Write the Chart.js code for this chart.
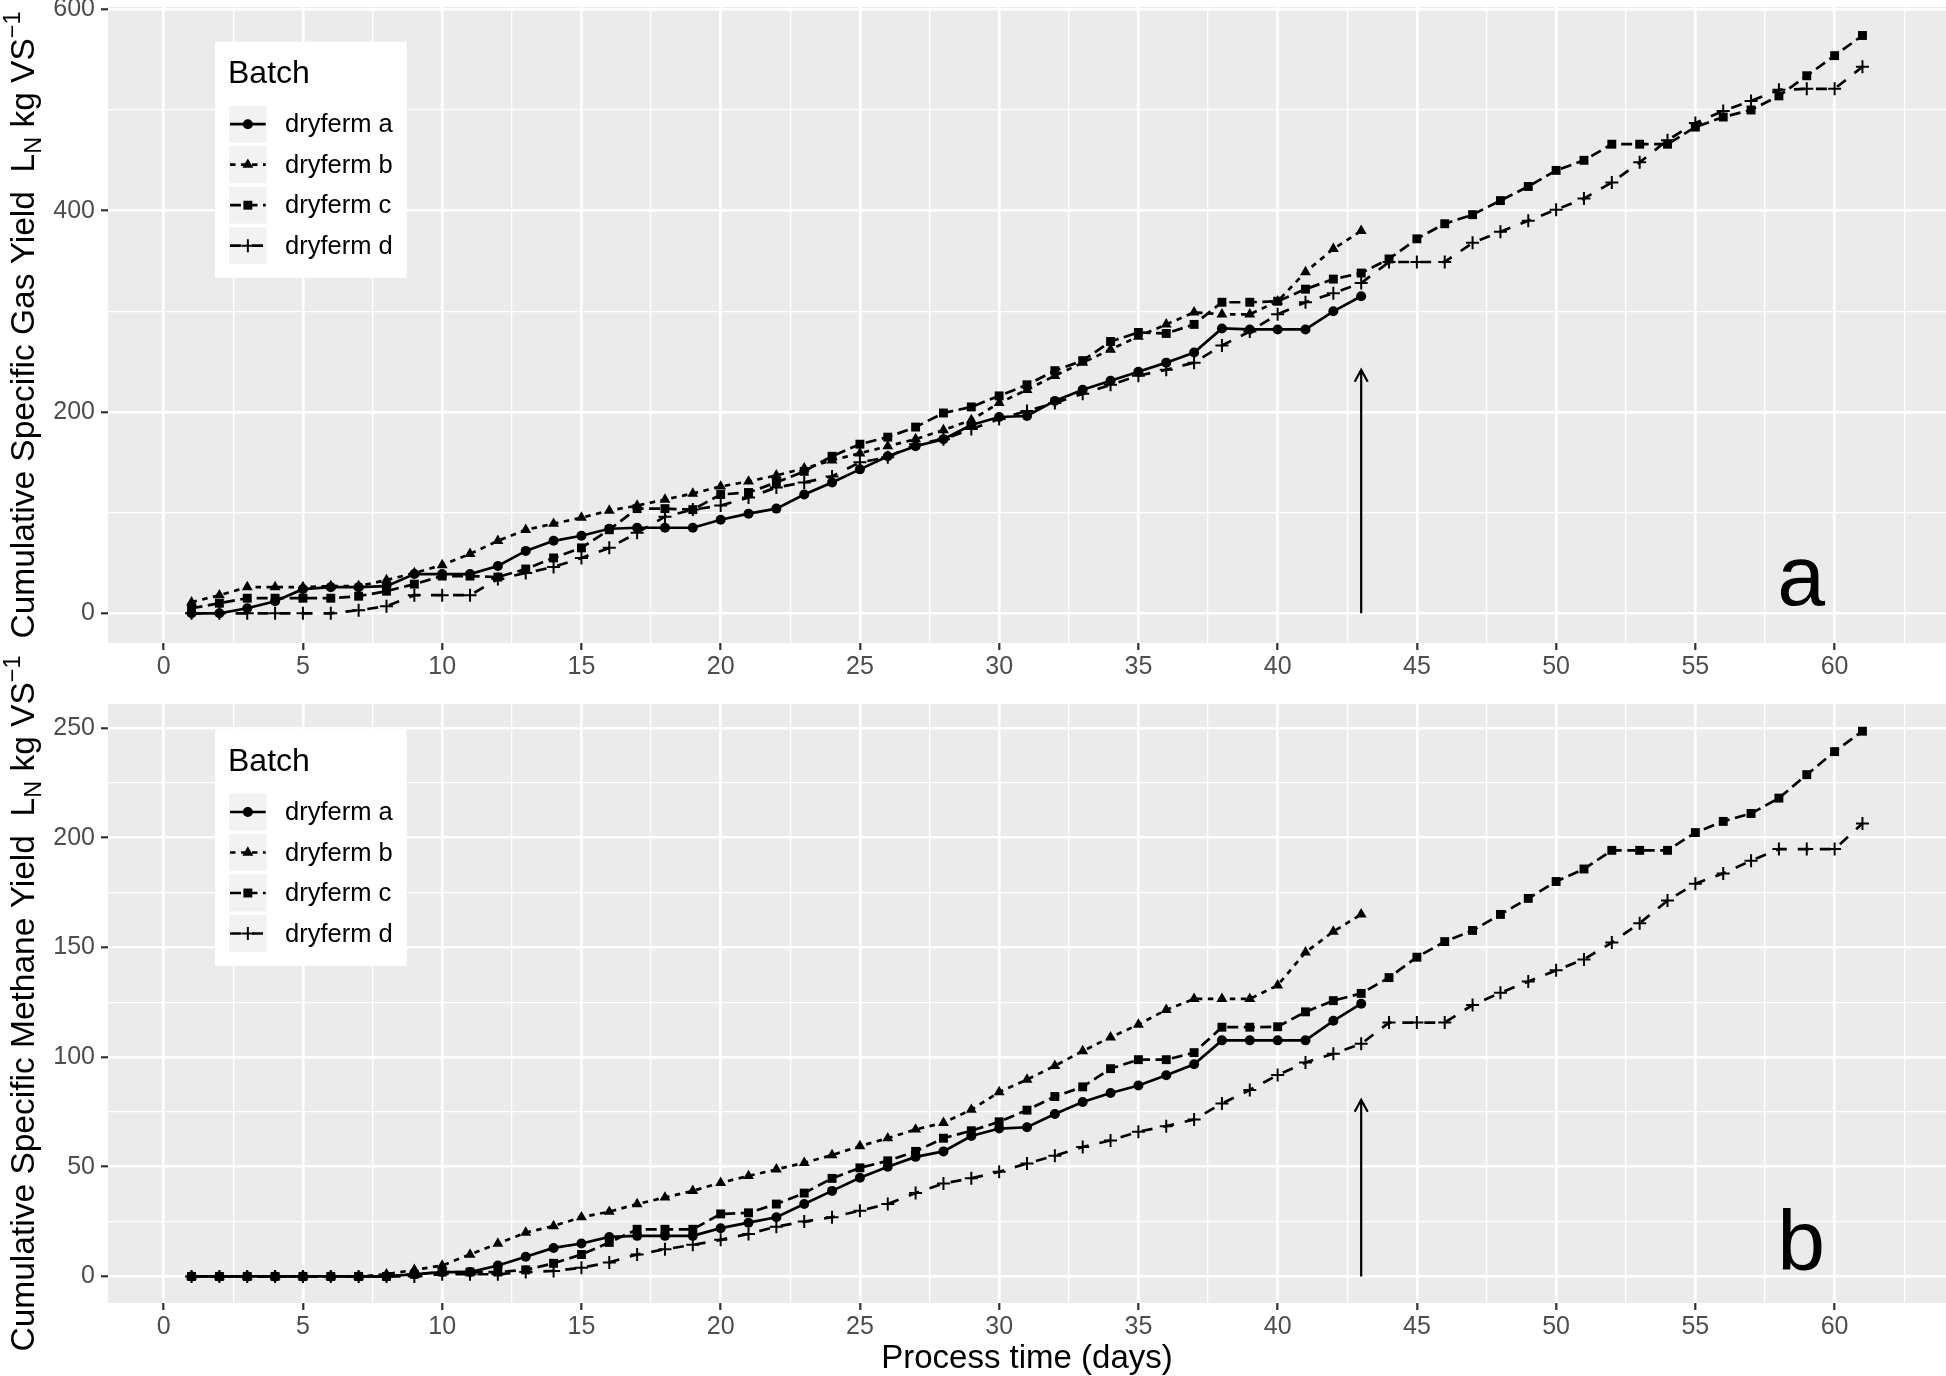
<!DOCTYPE html>
<html>
<head>
<meta charset="utf-8">
<script src="https://cdn.jsdelivr.net/npm/chart.js@4.4.1/dist/chart.umd.min.js"></script>
<style>
html,body{margin:0;padding:0;background:#ffffff;}
#wrap{position:relative;width:1946px;height:1376px;overflow:hidden;background:#ffffff;}
canvas{position:absolute;left:0;}
</style>
</head>
<body>
<div id="wrap">
<canvas id="gas" width="1946" height="690" style="top:0px"></canvas>
<canvas id="methane" width="1946" height="726" style="top:650px"></canvas>
</div>
<script>
// ---------------- DATA ----------------
const days = [1,2,3,4,5,6,7,8,9,10,11,12,13,14,15,16,17,18,19,20,21,22,23,24,25,26,27,28,29,30,31,32,33,34,35,36,37,38,39,40,41,42,43,44,45,46,47,48,49,50,51,52,53,54,55,56,57,58,59,60,61];
const seriesNames = ['dryferm a','dryferm b','dryferm c','dryferm d'];

// Cumulative specific gas yield (panel a)
const gasA = [0,0,5,12,24,26,26,27,39,39,39,47,62,72,77,84,85,85,85,93,99,104,118,130,143,156,166,173,187,195,196,211,222,231,240,249,259,283,282,282,282,300,315];
const gasB = [11,18,26,26,26,27,27,33,40,48,59,72,83,89,95,102,107,113,119,126,131,137,144,152,159,166,173,182,192,209,222,236,249,262,275,287,299,297,297,310,339,362,380];
const gasC = [5,10,15,15,15,15,17,22,29,37,37,36,44,55,65,83,104,104,103,118,120,130,141,156,168,175,185,199,205,216,227,241,251,270,279,278,287,309,309,310,322,332,338,352,372,387,396,410,424,440,450,466,466,466,483,493,500,514,534,554,574];
const gasD = [0,0,0,0,0,0,3,7,18,18,18,34,40,46,55,65,80,96,103,107,115,125,130,136,150,155,168,173,183,193,201,209,218,227,236,242,249,266,280,297,309,318,328,349,349,349,368,379,390,401,412,428,448,470,487,499,509,520,521,521,543];

// Cumulative specific methane yield (panel b)
const ch4A = [0,0,0,0,0,0,0,0,1,2,2,5,9,13,15,18,18.5,18.5,18.5,22,24.5,27,33,39,45,50,54.5,57,64,67.4,68,74,79.5,83.6,87,91.7,96.7,107.6,107.6,107.6,107.6,116.5,124.3];
const ch4B = [0,0,0,0,0,0,0,1,3,5,10,15,20,23,27,29.5,33,36,39,42.7,45.8,48.8,51.8,55.3,59.4,63,67,70,76,84,89.7,96,102.7,109,114.8,121.5,126.5,126.5,126.5,132.7,147.7,157.2,165];
const ch4C = [0,0,0,0,0,0,0,0,1,2,2,2,3,6,10,15.5,21.5,21.5,21.5,28.5,29,33,38,44.7,49.5,52.7,57,63,66.4,70.5,75.8,82,86.4,94.7,98.8,98.8,102,113.6,113.6,113.8,120.6,125.7,129,136.2,145.5,152.6,157.7,165,172.3,180,185.7,194.2,194.2,194.2,202.3,207.4,211,218,228.7,239.2,248.5];
const ch4D = [0,0,0,0,0,0,0,0,0,1,1,1,2,2.5,4,6.4,10,12.4,14.4,16.7,19.4,22.7,25,27,30,33,38,42.4,44.7,47.7,51.5,55,59,62,66,68.5,71.5,78.8,85,91.8,97.5,101.5,106,115.7,115.7,115.7,123.7,129.3,134.4,139.5,144.5,152.2,161,171.3,179,183.7,189.5,194.8,194.8,194.8,206.4];

// Axes ticks
const xMajorTicks = [0,5,10,15,20,25,30,35,40,45,50,55,60];
const xMinorTicks = [2.5,7.5,12.5,17.5,22.5,27.5,32.5,37.5,42.5,47.5,52.5,57.5,62.5];
const gasYMajorTicks = [0,200,400,600];
const gasYMinorTicks = [100,300,500];
const ch4YMajorTicks = [0,50,100,150,200,250];
const ch4YMinorTicks = [25,75,125,175,225];

// Annotations
const arrowDay = 43;
const gasArrowTop = 242;
const ch4ArrowTop = 80.5;
const panelLetters = ['a','b'];
const letterDay = 58.8;
const gasLetterY = 8;
const ch4LetterY = 3;

// ---------------- STYLE ----------------
const FONT = "'Liberation Sans', Arial, Helvetica, sans-serif";
const seriesStyles = [
  {dash: [], point: 'circle', r: 5, pbw: 0},
  {dash: [5.5, 5.5], point: 'triangle', r: 6.3, pbw: 0},
  {dash: [11, 5.5], point: 'rect', r: 6.3, pbw: 0},
  {dash: [11, 11], point: 'cross', r: 6.5, pbw: 2}
];

function toPoints(vals) { return vals.map((v, i) => ({x: days[i], y: v})); }

function drawMarker(ctx, st, x, y) {
  ctx.save();
  ctx.setLineDash([]);
  ctx.fillStyle = '#000';
  ctx.strokeStyle = '#000';
  const r = st.r;
  ctx.beginPath();
  if (st.point === 'circle') {
    ctx.arc(x, y, r, 0, Math.PI * 2); ctx.fill();
  } else if (st.point === 'triangle') {
    for (let k = 0; k < 3; k++) {
      const a = k * 2 * Math.PI / 3;
      const px = x + Math.sin(a) * r, py = y - Math.cos(a) * r;
      if (k === 0) ctx.moveTo(px, py); else ctx.lineTo(px, py);
    }
    ctx.closePath(); ctx.fill();
  } else if (st.point === 'rect') {
    const s = r * Math.SQRT1_2;
    ctx.rect(x - s, y - s, 2 * s, 2 * s); ctx.fill();
  } else {
    ctx.lineWidth = st.pbw;
    ctx.moveTo(x, y - r); ctx.lineTo(x, y + r);
    ctx.moveTo(x - r, y); ctx.lineTo(x + r, y);
    ctx.stroke();
  }
  ctx.restore();
}

const panelBg = {
  id: 'panelBg',
  beforeDraw(chart) {
    const {ctx, chartArea: a} = chart;
    ctx.save();
    ctx.fillStyle = '#EBEBEB';
    ctx.fillRect(a.left, a.top, a.right - a.left, a.bottom - a.top);
    ctx.restore();
  }
};

const decorations = {
  id: 'decorations',
  afterDatasetsDraw(chart, args, o) {
    const ctx = chart.ctx;
    const xs = chart.scales.x, ys = chart.scales.y;
    const ax = xs.getPixelForValue(arrowDay);
    const y0 = ys.getPixelForValue(0);
    const y1 = ys.getPixelForValue(o.arrowTop);
    ctx.save();
    ctx.strokeStyle = '#000';
    ctx.lineWidth = 2.2;
    ctx.setLineDash([]);
    ctx.beginPath();
    ctx.moveTo(ax, y0); ctx.lineTo(ax, y1);
    ctx.moveTo(ax - 6.5, y1 + 12); ctx.lineTo(ax, y1); ctx.lineTo(ax + 6.5, y1 + 12);
    ctx.stroke();
    ctx.fillStyle = '#000';
    ctx.font = '86px ' + FONT;
    ctx.textAlign = 'center';
    ctx.textBaseline = 'alphabetic';
    ctx.fillText(o.letter, xs.getPixelForValue(letterDay), ys.getPixelForValue(o.letterY));
    ctx.restore();
  },
  afterDraw(chart, args, o) {
    const ctx = chart.ctx;
    const area = chart.chartArea;
    // legend
    const L = 215, T = area.top + o.legendOffset;
    ctx.save();
    ctx.fillStyle = '#FFFFFF';
    ctx.fillRect(L, T, 191.7, 236.3);
    ctx.fillStyle = '#000';
    ctx.font = '32px ' + FONT;
    ctx.textAlign = 'left';
    ctx.textBaseline = 'alphabetic';
    ctx.fillText('Batch', L + 13, T + 41.3);
    seriesNames.forEach((name, i) => {
      const kt = T + 64 + i * 40.5;
      const kl = L + 14;
      ctx.fillStyle = '#F2F2F2';
      ctx.fillRect(kl, kt, 37.7, 37);
      const cy = kt + 18.5;
      const st = seriesStyles[i];
      ctx.save();
      ctx.strokeStyle = '#000';
      ctx.lineWidth = 2.7;
      ctx.setLineDash(st.dash);
      ctx.beginPath();
      ctx.moveTo(kl + 1, cy); ctx.lineTo(kl + 36.7, cy);
      ctx.stroke();
      ctx.restore();
      drawMarker(ctx, st, kl + 18.85, cy);
      ctx.fillStyle = '#000';
      ctx.font = '25.5px ' + FONT;
      ctx.textBaseline = 'middle';
      ctx.fillText(name, L + 70, cy + 1);
    });
    // y axis title (rich text)
    const size = 33.5;
    let total = 0;
    const segs = o.yTitle.map(p => {
      ctx.font = (size * p.scale) + 'px ' + FONT;
      const w = ctx.measureText(p.text).width;
      total += w;
      return Object.assign({w: w}, p);
    });
    const cyT = (area.top + area.bottom) / 2;
    ctx.translate(34, cyT);
    ctx.rotate(-Math.PI / 2);
    ctx.fillStyle = '#000';
    ctx.textAlign = 'left';
    ctx.textBaseline = 'alphabetic';
    let x = -total / 2;
    segs.forEach(s => {
      ctx.font = (size * s.scale) + 'px ' + FONT;
      ctx.fillText(s.text, x, s.dy * size);
      x += s.w;
    });
    ctx.restore();
    if (o.xTitle) {
      ctx.save();
      ctx.fillStyle = '#000';
      ctx.font = '33px ' + FONT;
      ctx.textAlign = 'center';
      ctx.textBaseline = 'middle';
      ctx.fillText(o.xTitle, (area.left + area.right) / 2, o.xTitleY);
      ctx.restore();
    }
  }
};

function makeChart(id, series, yMajor, yMinor, yMin, yMax, topPad, xAxisH, deco) {
  const datasets = series.map((vals, i) => {
    const st = seriesStyles[i];
    return {
      label: seriesNames[i],
      data: toPoints(vals),
      borderColor: '#000',
      backgroundColor: '#000',
      borderWidth: 2.7,
      borderDash: st.dash,
      pointStyle: st.point,
      pointRadius: st.r,
      pointHoverRadius: st.r,
      pointBorderWidth: st.pbw,
      pointBorderColor: '#000',
      pointBackgroundColor: '#000',
      tension: 0,
      fill: false
    };
  });
  const xAll = xMajorTicks.concat(xMinorTicks).sort((a, b) => a - b);
  const yAll = yMajor.concat(yMinor).sort((a, b) => a - b);
  return new Chart(document.getElementById(id), {
    type: 'line',
    data: {datasets: datasets},
    options: {
      responsive: false,
      animation: false,
      events: [],
      layout: {autoPadding: false, padding: {top: topPad, left: 0, right: 0, bottom: 0}},
      plugins: {
        legend: {display: false},
        tooltip: {enabled: false},
        decorations: deco
      },
      scales: {
        x: {
          type: 'linear', min: -2, max: 64,
          afterBuildTicks: (axis) => { axis.ticks = xAll.map(v => ({value: v})); },
          afterFit: (s) => { s.height = xAxisH; s.paddingLeft = 0; s.paddingRight = 0; s.paddingTop = 0; s.paddingBottom = 0; },
          border: {display: false},
          grid: {
            color: '#FFFFFF',
            lineWidth: (c) => xMajorTicks.includes(c.tick.value) ? 2.6 : 1.3,
            tickColor: (c) => xMajorTicks.includes(c.tick.value) ? '#333333' : 'rgba(0,0,0,0)',
            tickLength: 7,
            tickWidth: 2.2
          },
          ticks: {
            autoSkip: false, maxRotation: 0, minRotation: 0, padding: 2.5,
            color: '#4D4D4D',
            font: {family: FONT, size: 25},
            callback: (v) => xMajorTicks.includes(v) ? String(v) : ''
          }
        },
        y: {
          type: 'linear', min: yMin, max: yMax,
          afterBuildTicks: (axis) => { axis.ticks = yAll.map(v => ({value: v})); },
          afterFit: (s) => { s.width = 108; s.paddingLeft = 0; s.paddingRight = 0; s.paddingTop = 0; s.paddingBottom = 0; },
          border: {display: false},
          grid: {
            color: '#FFFFFF',
            lineWidth: (c) => yMajor.includes(c.tick.value) ? 2.6 : 1.3,
            tickColor: (c) => yMajor.includes(c.tick.value) ? '#333333' : 'rgba(0,0,0,0)',
            tickLength: 7,
            tickWidth: 2.2
          },
          ticks: {
            autoSkip: false, padding: 6,
            color: '#4D4D4D',
            font: {family: FONT, size: 25},
            callback: (v) => yMajor.includes(v) ? String(v) : ''
          }
        }
      }
    },
    plugins: [panelBg, decorations]
  });
}

makeChart('gas', [gasA, gasB, gasC, gasD], gasYMajorTicks, gasYMinorTicks, -29.5, 602.3, 7, 47, {
  arrowTop: gasArrowTop, letter: panelLetters[0], letterY: gasLetterY, legendOffset: 34.7,
  yTitle: [
    {text: 'Cumulative Specific Gas Yield  L', scale: 1, dy: 0},
    {text: 'N', scale: 0.7, dy: 0.22},
    {text: ' kg VS', scale: 1, dy: 0},
    {text: '\u22121', scale: 0.7, dy: -0.42}
  ]
});

makeChart('methane', [ch4A, ch4B, ch4C, ch4D], ch4YMajorTicks, ch4YMinorTicks, -12.1, 260.9, 54, 73, {
  arrowTop: ch4ArrowTop, letter: panelLetters[1], letterY: ch4LetterY, legendOffset: 25.5,
  xTitle: 'Process time (days)', xTitleY: 709,
  yTitle: [
    {text: 'Cumulative Specific Methane Yield  L', scale: 1, dy: 0},
    {text: 'N', scale: 0.7, dy: 0.22},
    {text: ' kg VS', scale: 1, dy: 0},
    {text: '\u22121', scale: 0.7, dy: -0.42}
  ]
});
</script>
</body>
</html>
